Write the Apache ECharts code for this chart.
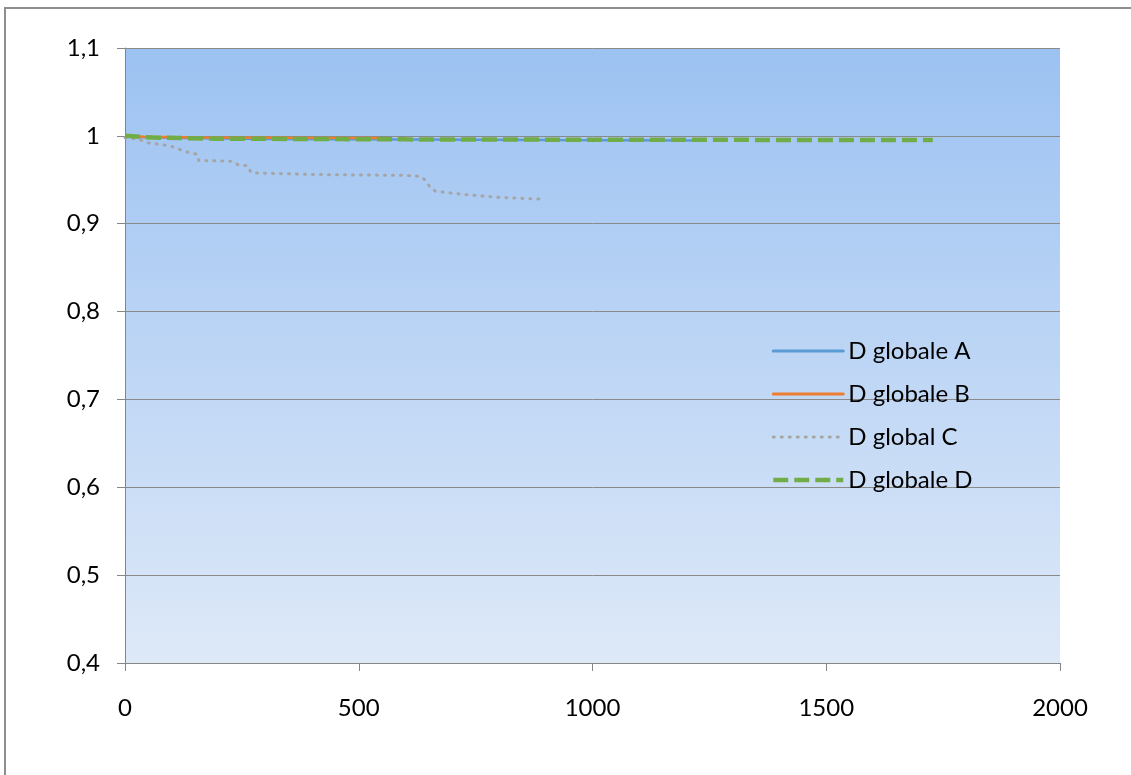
<!DOCTYPE html>
<html>
<head>
<meta charset="utf-8">
<script src="https://cdn.jsdelivr.net/npm/echarts@6/dist/echarts.min.js"></script>
<style>html,body{margin:0;padding:0;background:#fff;}#c{width:1131px;height:775px;}</style>
</head>
<body>
<div id="c"></div>
<script>
const seriesNames = ['D globale A', 'D globale B', 'D global C', 'D globale D'];
const dataA = [[0,1.0],[40,0.9985],[120,0.9975],[300,0.9965],[600,0.9958],[900,0.9952],[1220,0.9947]];
const dataB = [[0,1.0],[40,0.999],[150,0.9982],[350,0.9978],[545,0.9975]];
const dataC = [[0,0.998],[30,0.996],[50,0.992],[80,0.990],[100,0.988],[115,0.985],[130,0.982],[155,0.979],[158,0.972],[230,0.971],[242,0.967],[262,0.966],[270,0.958],[400,0.956],[600,0.955],[630,0.954],[642,0.950],[652,0.942],[664,0.937],[730,0.933],[800,0.930],[888,0.928]];
const dataD = [[0,1.0],[60,0.998],[200,0.9968],[600,0.996],[1000,0.9956],[1400,0.9954],[1728,0.9953]];
const xTicks = {min: 0, max: 2000, interval: 500};
const yTicks = {min: 0.4, max: 1.1, interval: 0.1};

const colors = ['#5b9bd5', '#ed7d31', '#a5a5a5', '#70ad47'];
const lineStyles = [
  {color: colors[0], width: 2.5},
  {color: colors[1], width: 2.5},
  {color: colors[2], width: 3, type: [1, 7], cap: 'round'},
  {color: colors[3], width: 4.5, type: [15, 6]}
];
const legendStyles = [
  {color: colors[0], width: 3, cap: 'round'},
  {color: colors[1], width: 3, cap: 'round'},
  {color: colors[2], width: 3, type: [1, 7], cap: 'round'},
  {color: colors[3], width: 4.5, type: [15, 6]}
];

const chart = echarts.init(document.getElementById('c'));
const font = 'Lato, "Open Sans", sans-serif';
chart.setOption({
  animation: false,
  backgroundColor: '#ffffff',
  graphic: [{
    type: 'rect', z: -10,
    shape: {x: 5, y: 8, width: 1300, height: 900},
    style: {fill: 'none', stroke: '#8e8e8e', lineWidth: 2}
  }],
  grid: {
    left: 125, right: 71, top: 48, bottom: 112,
    show: true, borderWidth: 0,
    backgroundColor: new echarts.graphic.LinearGradient(0, 0, 0, 1, [
      {offset: 0, color: '#9cc2f2'},
      {offset: 1, color: '#dee9f8'}
    ])
  },
  xAxis: {
    type: 'value', min: xTicks.min, max: xTicks.max, interval: xTicks.interval,
    axisLine: {show: true, onZero: false, lineStyle: {color: '#868686', width: 1}},
    axisTick: {show: true, length: 8, lineStyle: {color: '#868686'}},
    splitLine: {show: false},
    axisLabel: {margin: 33, color: '#000', fontSize: 24, fontFamily: font, formatter: v => String(v)}
  },
  yAxis: {
    type: 'value', min: yTicks.min, max: yTicks.max, interval: yTicks.interval,
    axisLine: {show: true, lineStyle: {color: '#868686', width: 1}},
    axisTick: {show: true, length: 8, lineStyle: {color: '#868686'}},
    splitLine: {show: true, lineStyle: {color: '#8a8a8a', width: 1}},
    axisLabel: {
      margin: 25, color: '#000', fontSize: 24, fontFamily: font,
      formatter: v => {
        let s = (Math.round(v * 10) / 10).toFixed(1).replace('.', ',');
        if (s.endsWith(',0')) s = s.slice(0, -2);
        return s;
      }
    }
  },
  legend: {
    orient: 'vertical', left: 766, top: 334,
    itemWidth: 70, itemHeight: 14, itemGap: 19,
    itemStyle: {opacity: 0},
    textStyle: {fontSize: 24, fontFamily: font, color: '#000', lineHeight: 24},
    data: seriesNames.map((n, i) => ({name: n, lineStyle: legendStyles[i], itemStyle: {opacity: 0}}))
  },
  series: seriesNames.map((n, i) => ({
    name: n, type: 'line', data: [dataA, dataB, dataC, dataD][i],
    showSymbol: false, symbol: 'none',
    lineStyle: lineStyles[i], itemStyle: {color: colors[i]}, z: 2 + i
  }))
});
</script>
</body>
</html>
